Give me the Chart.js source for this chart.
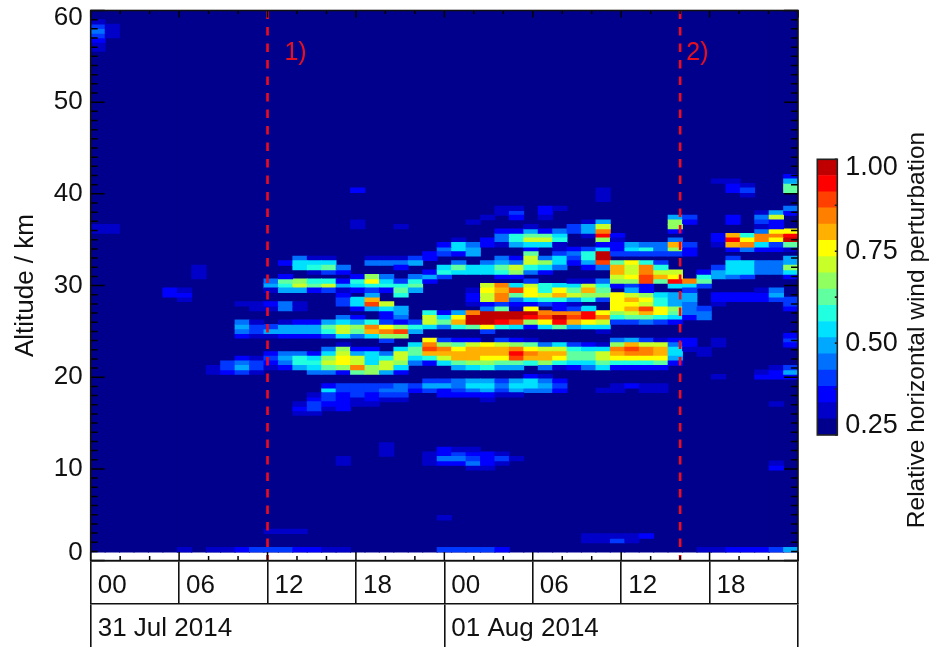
<!DOCTYPE html>
<html><head><meta charset="utf-8">
<style>
html,body{margin:0;padding:0;background:#fff;width:944px;height:647px;overflow:hidden}
canvas{position:absolute;top:0;filter:blur(0.4px)}
#main{left:0}
#bar{left:800px}
</style>
<script src="https://cdn.jsdelivr.net/npm/chart.js@4"></script>
</head><body>
<canvas id="main" width="944" height="647"></canvas>
<canvas id="bar" width="144" height="647"></canvas>
<script>
// Grid of the retrieval: 49 time columns, 119 altitude rows above 0.95 km
const COLUMN_COUNT = 49, ROW_COUNT = 119, GRID_BOTTOM_KM = 0.95, GRID_TOP_KM = 60;
const hourTicks = [0,6,12,18,24,30,36,42,48];
const hourTickLabels = ['00','06','12','18','00','06','12','18',''];
const dateTicks = [0,24,48];
const dateTickLabels = ['31 Jul 2014','01 Aug 2014',''];
const altitudeTicks = [0,10,20,30,40,50,60];
const colorbarTicks = ['0.25','0.50','0.75','1.00'];
const markerHours = [12,40];
const markerNotes = ['1)','2)'];
const markerNoteHours = [13.15,40.42];
const markerNoteKm = 55.3;
const colorLevels = ['#00008c','#0000c8','#0000ff','#0038ff','#0070ff','#00a8ff','#00e0ff','#20ffe0','#60ffa0','#90ff60','#c8ff28','#ffff00','#ffb000','#ff8000','#ff4000','#ff0000','#c00000'];
// [column, top row, hundredths of perturbation going down from the top row]
const cellRuns = [
[0,116,[32,40,45,40,36,32,32]],[0,71,[32,32]],
[1,115,[32,32,32]],[1,71,[32,32]],
[5,57,[36,36]],
[6,57,[32,36,32]],[6,0,[32]],
[7,62,[32,32,32]],
[8,40,[32,32]],[8,0,[32]],
[9,41,[40,40,36]],[9,0,[32]],
[10,54,[32]],[10,50,[45,49,45,36]],[10,42,[36,45,49,40]],[10,0,[36]],
[11,54,[32,32]],[11,50,[32,40,40,32]],[11,42,[32,40,40,32]],[11,0,[40]],
[12,59,[45,49,32]],[12,54,[36,32]],[12,49,[40,49,32]],[12,43,[36,40,36,32]],[12,4,[32]],[12,0,[40]],
[13,63,[36]],[13,60,[36,63,58,49]],[13,54,[45,45]],[13,50,[32,49,49,36]],[13,43,[45,49,45,36]],[13,4,[32]],[13,0,[40]],
[14,64,[45,54,54]],[14,59,[67,71,49]],[14,54,[32,32]],[14,50,[36,49,49,36]],[14,43,[45,58,58,49]],[14,32,[32,36,32]],[14,4,[32]],[14,0,[36]],
[15,64,[32,54,58,32]],[15,59,[58,63,36]],[15,50,[36,49,49,36]],[15,43,[36,54,58,54,45]],[15,34,[32,36,40,40,32]],[15,0,[36]],
[16,64,[32,54,63,40]],[16,59,[58,71,40]],[16,50,[49,63,58,40]],[16,44,[45,54,67,71,63,45]],[16,36,[36,54,40,40,36,32]],[16,0,[32]],
[17,62,[45,36]],[17,59,[36,49,32]],[17,56,[36,40,40]],[17,51,[45,54,71,71,54]],[17,45,[32,67,71,76,76,67,36]],[17,36,[40,40,36,36,36,36]],[17,20,[32,32]],[17,0,[32]],
[18,79,[36]],[18,72,[32,32]],[18,60,[36,58,54,36]],[18,55,[54,54,36]],[18,51,[36,49,67,63,45]],[18,44,[36,49,71,71,85,63]],[18,36,[40,40,40,32,32]],
[19,64,[32,45]],[19,60,[67,76,58,40]],[19,56,[49,80,89,49]],[19,50,[58,85,80,54]],[19,44,[36,54,54,54,67,67]],[19,36,[40,40,36,36,32]],
[20,64,[32,45]],[20,60,[45,54,58,36]],[20,54,[71,54,36,36]],[20,50,[40,76,85,67,40]],[20,43,[45,58,71,71,49]],[20,36,[40,45,40,32]],[20,23,[32,32,32]],
[21,71,[32]],[21,64,[32,45,36]],[21,59,[40,58,63,58]],[21,53,[49,49,45]],[21,50,[36,67,89,67]],[21,44,[54,71,71,67,54,36]],[21,36,[45,45,40,32]],
[22,64,[40,49]],[22,60,[45,58,63,49]],[22,50,[40,58,49]],[22,45,[54,63,63,54,45]],[22,36,[40,36]],
[23,65,[36,36]],[23,61,[36,49,36]],[23,52,[58,71,71,54]],[23,46,[76,85,89,80,58,36]],[23,37,[40,49,40]],[23,21,[32,32,32]],
[24,67,[36,45,40]],[24,62,[54,58,40]],[24,52,[36,54,63,45]],[24,46,[40,67,85,80,71,54]],[24,37,[40,49,36,36]],[24,22,[36,36,45,36]],[24,7,[32]],[24,0,[40]],
[25,68,[32,54,54,36]],[25,63,[45,63,54]],[25,52,[49,76,80,58]],[25,46,[36,63,76,80,80,63,49]],[25,37,[45,45,40,36]],[25,22,[32,40,45,36]],[25,0,[40]],
[26,72,[32]],[26,67,[45,49,49]],[26,62,[54,54]],[26,57,[32,36,36,32]],[26,52,[85,98,98,63]],[26,46,[36,71,80,80,80,67,54]],[26,37,[49,54,45,36]],[26,22,[32,36,40,45,32]],[26,0,[40]],
[27,73,[32]],[27,68,[36,36]],[27,63,[45,54,54]],[27,58,[71,76,71,71,36,45]],[27,52,[98,98,98,76,40]],[27,45,[76,80,80,76,67,58]],[27,37,[49,54,49,36,32]],[27,21,[36,36,36,32]],[27,0,[40]],
[28,75,[32,32]],[28,70,[36,45,45,32]],[28,64,[45,49,63,58,36]],[28,58,[85,80,85,85,40,63]],[28,52,[98,98,93,58]],[28,46,[40,71,80,80,76,63,49]],[28,37,[40,45,40,32]],[28,21,[32,40,32]],[28,0,[36]],
[29,75,[32,40,36]],[29,70,[36,58,58,49]],[29,64,[36,45,71,67,36]],[29,58,[54,89,63,45,36,32]],[29,52,[98,98,89,54]],[29,46,[36,67,85,93,89,63,49]],[29,37,[49,54,49,32]],[29,20,[32]],
[30,71,[32]],[30,70,[49,63,71,54,36]],[30,65,[63,71,71,58,45]],[30,59,[40,71,76,76,54,36]],[30,53,[76,98,93,67,36]],[30,46,[32,63,76,85,80,58]],[30,38,[36,54,54,45]],
[31,75,[36,36,32]],[31,70,[36,63,71,54]],[31,64,[45,67,54,36]],[31,58,[58,58,71,58,40]],[31,52,[85,89,76,54]],[31,45,[45,71,80,80,67,45]],[31,38,[32,45,49,45]],
[32,75,[32]],[32,70,[45,54,58,32,32]],[32,65,[40,54,54,45]],[32,58,[54,76,80,58,36,36]],[32,52,[85,98,93,63]],[32,45,[54,71,80,76,58,32]],[32,37,[36,40,36]],
[33,71,[40,40]],[33,66,[36,45,40,36]],[33,59,[32,54,63,71,49,32,40]],[33,52,[85,89,80,49]],[33,45,[40,58,63,63,54,36]],
[34,72,[32,49,49,32]],[34,66,[40,58,58,49,36]],[34,59,[32,71,80,67,58]],[34,53,[54,93,93,76,54]],[34,45,[36,54,63,63,54,45]],[34,3,[32,32]],
[35,79,[32,32,32]],[35,72,[49,71,85,93,67,36]],[35,66,[54,98,98,89,45]],[35,59,[45,58,63,67,40]],[35,52,[76,85,71,54,32]],[35,45,[32,54,71,71,63,54]],[35,35,[32]],[35,3,[32,32]],
[36,69,[36,32,36,36,40]],[36,63,[63,80,80,71,67,36]],[36,56,[76,76,76,76,67,58,40]],[36,46,[45,67,85,80,76,58,36]],[36,36,[32,32]],[36,3,[32,40]],
[37,67,[49,54,40]],[37,63,[76,71,71,76,67,40]],[37,57,[49,71,80,76,80,71,63,40]],[37,46,[49,80,89,85,76,58,36]],[37,36,[36]],[37,3,[32,32]],
[38,67,[45,58,40]],[38,63,[58,85,85,89,89,36]],[38,57,[36,67,76,71,89,80,63,45]],[38,46,[40,71,85,85,76,58,36]],[38,36,[32,32]],[38,3,[36]],
[39,67,[45,45,40]],[39,63,[40,58,71,80,63]],[39,56,[54,58,58,76,76,58,40]],[39,46,[32,71,80,80,76,63,36]],[39,36,[32,32]],
[40,73,[49,67,67,36]],[40,68,[45,80,67,40]],[40,61,[71,76,93,54]],[40,56,[49,49,49,67,63,54,36]],[40,46,[36,45,54,54,49,36]],
[41,73,[40,36]],[41,67,[40,36,36]],[41,59,[85,54,40]],[41,56,[49,49,45,45,45,36]],[41,46,[36,36,32]],
[42,61,[36,58,63,40]],[42,53,[40,45,45]],[42,44,[32,32]],[42,0,[32]],
[43,81,[32]],[43,69,[36,36,32]],[43,62,[40,49,49]],[43,56,[36,36,32]],[43,46,[32,32]],[43,38,[32]],[43,0,[32]],
[44,81,[32,36,36]],[44,73,[36,36]],[44,69,[80,93,80,36]],[44,64,[40,54,54,54,45]],[44,56,[36,36]],[44,0,[36]],
[45,80,[32,40,32]],[45,69,[58,76,85,45]],[45,63,[54,54,54,40]],[45,56,[36,36]],[45,0,[36]],
[46,74,[32,45,40,32,45]],[46,69,[85,85,54,36]],[46,63,[45,45,45]],[46,57,[32,36,36]],[46,39,[32,36]],[46,0,[36]],
[47,74,[49,71,36,36,76]],[47,69,[85,76,40,36]],[47,63,[45,45,45]],[47,57,[45,49,40]],[47,40,[32,36,36]],[47,32,[32]],[47,19,[32,36]],[47,0,[40]],
[48,82,[36,49,63,63]],[48,75,[45,36]],[48,70,[76,93,98,63,32]],[48,64,[49,49,67,54,36]],[48,55,[40,40]],[48,53,[36]],[48,47,[36,40,36]],[48,40,[40,49,36]],[48,0,[49]]
];

const INK = '#111111';
const FONT = 'Liberation Sans, Arial, sans-serif';
Chart.defaults.font.family = FONT;
Chart.defaults.color = INK;
const rowKm = (GRID_TOP_KM - GRID_BOTTOM_KM) / ROW_COUNT;
const columnLabels = Array.from({length: COLUMN_COUNT}, (_, j) => String(j));
const levelOf = v => Math.min(colorLevels.length - 1, Math.max(0, Math.floor((v - 0.25) / 0.75 * colorLevels.length)));

// one floating-bar dataset per altitude row
const rows = new Map();
cellRuns.forEach(([col, top, vals]) => vals.forEach((pct, k) => {
  const r = top - k;
  if (!rows.has(r)) rows.set(r, {data: Array(COLUMN_COUNT).fill(null), backgroundColor: Array(COLUMN_COUNT).fill(colorLevels[0])});
  const lo = GRID_BOTTOM_KM + r * rowKm;
  rows.get(r).data[col] = [lo, lo + rowKm];
  rows.get(r).backgroundColor[col] = colorLevels[levelOf(pct / 100)];
}));
const barBase = {type: 'bar', xAxisID: 'x', yAxisID: 'y', grouped: false, barPercentage: 1, categoryPercentage: 1, borderWidth: 0};
const datasets = [];
markerHours.forEach(h => datasets.push({
  type: 'line', xAxisID: 'xTime', yAxisID: 'y', order: -1,
  data: [{x: h, y: 60}, {x: h, y: 0}], borderColor: '#f00a1c', borderWidth: 2.6,
  borderDash: [8.5, 8], pointRadius: 0, clip: false
}));
rows.forEach(r => datasets.push({...barBase, order: 1, inflateAmount: 0.4, ...r}));
datasets.push({...barBase, order: 2, inflateAmount: 0.6, data: columnLabels.map(() => [GRID_BOTTOM_KM, GRID_TOP_KM]), backgroundColor: colorLevels[0]});

const shiftEnds = (scale, firstDy, lastDy) => {
  const items = scale.getLabelItems();
  items[0].options.translation[1] += firstDy;
  items[items.length - 1].options.translation[1] += lastDy;
};
const noPad = s => { s.paddingLeft = s.paddingRight = s.paddingTop = s.paddingBottom = 0; };

const framePlugin = {
  id: 'frame',
  beforeDraw(chart) { shiftEnds(chart.scales.y, -8, 7.5); },
  afterDatasetsDraw(chart) {
    const {ctx, chartArea: a, scales: {y, xTime}} = chart;
    ctx.save();
    ctx.strokeStyle = '#000';
    ctx.lineWidth = 1.5;
    ctx.beginPath();
    for (let km = 0; km <= 60; km++) {
      const py = y.getPixelForValue(km), len = km % 10 === 0 ? 14 : 7;
      ctx.moveTo(a.left, py); ctx.lineTo(a.left + len, py);
      ctx.moveTo(a.right, py); ctx.lineTo(a.right - len, py);
    }
    for (let h = 0; h <= 48; h += 2) {
      const px = xTime.getPixelForValue(h), top = h % 6 === 0 ? 7 : 3.5, bot = h % 6 === 0 ? 8.5 : 4.5;
      ctx.moveTo(px, a.top); ctx.lineTo(px, a.top + top);
      ctx.moveTo(px, a.bottom); ctx.lineTo(px, a.bottom - bot);
    }
    ctx.stroke();
    ctx.strokeStyle = INK;
    ctx.lineWidth = 1.6;
    ctx.strokeRect(a.left, a.top, a.right - a.left, a.bottom - a.top);
    ctx.fillStyle = '#e8101e';
    ctx.font = '25px ' + FONT;
    ctx.textAlign = 'left';
    ctx.textBaseline = 'middle';
    markerNotes.forEach((t, i) => ctx.fillText(t, xTime.getPixelForValue(markerNoteHours[i]), y.getPixelForValue(markerNoteKm)));
    ctx.restore();
  }
};

const tableAxis = (values, labels, weight) => ({
  type: 'linear', position: 'bottom', min: 0, max: 48, weight, offset: false,
  afterFit(s) { s.height = 43.2; noPad(s); },
  border: {display: true, color: INK, width: 1.6},
  grid: {display: true, offset: false, drawOnChartArea: false, drawTicks: true, tickLength: 43.2, color: INK, lineWidth: 1.6},
  afterBuildTicks(s) { s.ticks = values.map(v => ({value: v})); },
  ticks: {
    autoSkip: false, maxRotation: 0, align: 'start', labelOffset: 7, padding: -34,
    font: {size: 26}, color: INK,
    callback: (v) => labels[values.indexOf(v)]
  }
});

new Chart(document.getElementById('main'), {
  data: {labels: columnLabels, datasets},
  type: 'bar',
  plugins: [framePlugin],
  options: {
    responsive: false, animation: false, devicePixelRatio: 1,
    layout: {padding: {top: 10.5, right: 146, left: 0, bottom: 0}},
    plugins: {legend: {display: false}, tooltip: {enabled: false}},
    scales: {
      x: {type: 'category', display: false, offset: true, grid: {display: false}},
      xTime: tableAxis(hourTicks, hourTickLabels, 1),
      xDate: tableAxis(dateTicks, dateTickLabels, 2),
      y: {
        type: 'linear', position: 'left', min: 0, max: 60,
        afterFit(s) { s.width = 90.7; noPad(s); },
        afterBuildTicks(s) { s.ticks = altitudeTicks.map(v => ({value: v})); },
        border: {display: false},
        grid: {display: false, drawTicks: false},
        ticks: {font: {size: 26}, padding: 8, color: INK, autoSkip: false},
        title: {display: true, text: 'Altitude / km', font: {size: 26}, color: INK, padding: {top: 10, bottom: 0}}
      }
    }
  }
});

// ---- colour bar ----
const COLORBAR_TITLE = 'Relative horizontal wind perturbation';
const levelWidth = 0.75 / colorLevels.length;
const barPlugin = {
  id: 'colorbarFrame',
  beforeDraw(chart) { shiftEnds(chart.scales.y, -9, 8); },
  afterDatasetsDraw(chart) {
    const {ctx, chartArea: a, scales: {y}} = chart;
    ctx.save();
    ctx.strokeStyle = '#222';
    ctx.lineWidth = 1.6;
    ctx.strokeRect(a.left, a.top, a.right - a.left, a.bottom - a.top);
    ctx.beginPath();
    for (let v = 0.25; v <= 1.0001; v += 0.125) {
      const py = y.getPixelForValue(v);
      ctx.moveTo(a.right, py); ctx.lineTo(a.right - 2.5, py);
    }
    ctx.stroke();
    ctx.translate(117.5, 330);
    ctx.rotate(-Math.PI / 2);
    ctx.fillStyle = INK;
    ctx.font = '24.5px ' + FONT;
    ctx.textAlign = 'center';
    ctx.textBaseline = 'middle';
    ctx.fillText(COLORBAR_TITLE, 0, 0);
    ctx.restore();
  }
};
new Chart(document.getElementById('bar'), {
  type: 'bar',
  data: {
    labels: ['level'],
    datasets: colorLevels.map((c, i) => ({
      data: [[0.25 + i * levelWidth, 0.25 + (i + 1) * levelWidth]],
      backgroundColor: c, grouped: false, barPercentage: 1, categoryPercentage: 1, borderWidth: 0
    }))
  },
  plugins: [barPlugin],
  options: {
    responsive: false, animation: false, devicePixelRatio: 1,
    layout: {padding: {top: 159.3, bottom: 212, left: 17.3, right: 0}},
    plugins: {legend: {display: false}, tooltip: {enabled: false}},
    scales: {
      x: {type: 'category', display: false, offset: true},
      y: {
        type: 'linear', position: 'right', min: 0.25, max: 1,
        afterFit(s) { s.width = 106.7; },
        afterBuildTicks(s) { s.ticks = colorbarTicks.map(v => ({value: Number(v)})); },
        border: {display: false}, grid: {display: false, drawTicks: false},
        ticks: {font: {size: 27}, padding: 8, color: INK, autoSkip: false, callback: v => Number(v).toFixed(2)}
      }
    }
  }
});
</script>
</body></html>
